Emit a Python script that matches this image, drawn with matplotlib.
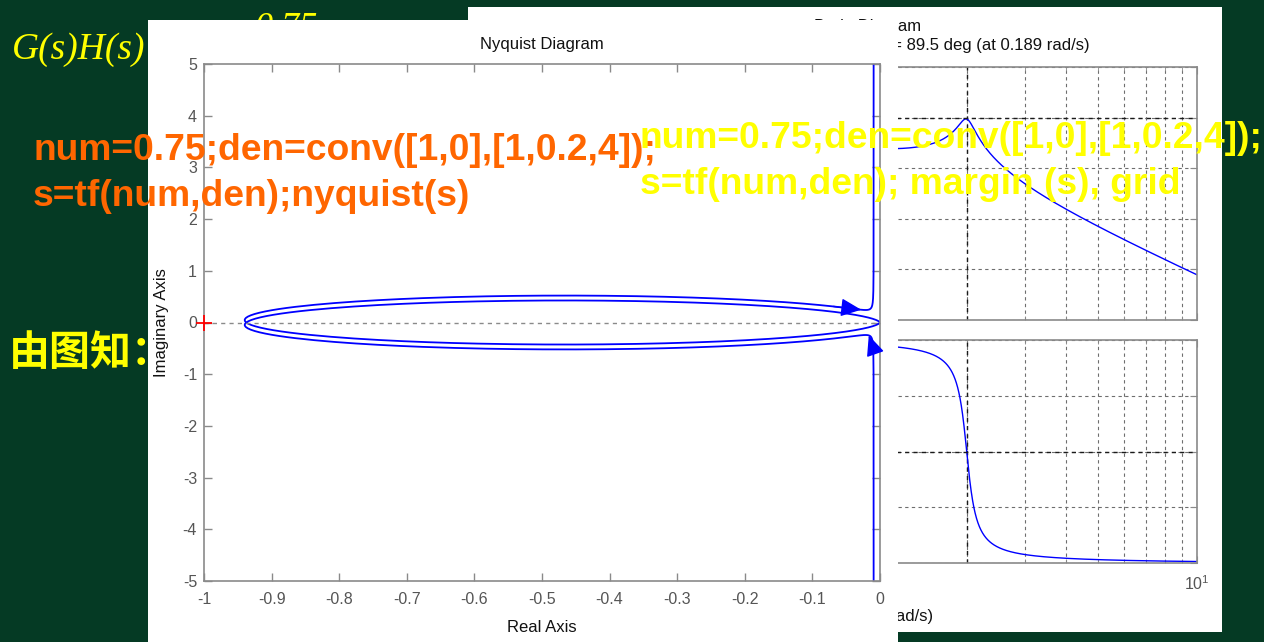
import numpy as np
import matplotlib
matplotlib.use("Agg")
import matplotlib.pyplot as plt
from matplotlib.patches import Rectangle
from matplotlib.ticker import FixedLocator, NullFormatter

# ---------------- data (transfer function shown on the slide) ----------------
num = [0.75]
den_s = [1, 0]
den_q = [1, 0.2, 4]
den = np.convolve(den_s, den_q)

w = np.logspace(-2, 3, 8000)           # frequency grid (rad/s)

nyq_xticks = [-1, -0.9, -0.8, -0.7, -0.6, -0.5, -0.4, -0.3, -0.2, -0.1, 0]
nyq_xticklabels = ["-1", "-0.9", "-0.8", "-0.7", "-0.6", "-0.5", "-0.4", "-0.3", "-0.2", "-0.1", "0"]
nyq_yticks = [-5, -4, -3, -2, -1, 0, 1, 2, 3, 4, 5]
nyq_yticklabels = ["-5", "-4", "-3", "-2", "-1", "0", "1", "2", "3", "4", "5"]

mag_ticks = [-80, -60, -40, -20, 0, 20]
phase_ticks = [-270, -225, -180, -135, -90]

gm_db = 0.561
w_gm = 2.0
pm_deg = 89.5
w_pm = 0.189

# arrow placement (frequencies along the branches)
arrow_pos_w = (0.4, 1.0)     # positive-frequency branch, tail -> tip
arrow_neg_w = (1.6, 1.3)     # negative-frequency branch, tail -> tip

title_nyq = "Nyquist Diagram"
title_bode = "Bode Diagram\nGm = %.3g dB (at %g rad/s) ,  Pm = %.3g deg (at %g rad/s)" % (gm_db, w_gm, pm_deg, w_pm)

code_orange = ["num=0.75;den=conv([1,0],[1,0.2,4]);", "s=tf(num,den);nyquist(s)"]
code_yellow = ["num=0.75;den=conv([1,0],[1,0.2,4]);", "s=tf(num,den); margin (s), grid"]
note_text = "由图知："

# ---------------- styling ----------------
BG = "#053a24"
BLUE = "#0000ff"
FRAME = "#8a8a8a"
TICKLBL = "#555555"
ORANGE = "#ff6600"
YELLOW = "#ffff00"

plt.rcParams["font.family"] = ["Liberation Sans", "DejaVu Sans"]
plt.rcParams["mathtext.fontset"] = "custom"
plt.rcParams["mathtext.rm"] = "Liberation Sans"
plt.rcParams["mathtext.it"] = "Liberation Sans:italic"

W, H = 1264, 642


def fx(px):
    return px / W


def fy(py):
    return 1 - py / H


def box(l, t, r, b):
    return [fx(l), fy(b), (r - l) / W, (b - t) / H]


fig = plt.figure(figsize=(W / 100, H / 100), dpi=100, facecolor=BG)

# ---------------- frequency response ----------------
Hjw = np.polyval(num, 1j * w) / np.polyval(den, 1j * w)
Hneg = np.conj(Hjw)
mag_db = 20 * np.log10(np.abs(Hjw))
phase = np.degrees(np.unwrap(np.angle(Hjw)))

# ---------------- background formula text (behind panels) ----------------
fig.text(fx(12), fy(50), "G(s)H(s)", family="Liberation Serif", style="italic",
         fontsize=27, color=YELLOW, va="center", ha="left", zorder=0.5)
fig.text(fx(255), fy(12), "0.75", family="Liberation Serif", style="italic",
         fontsize=26, color=YELLOW, va="top", ha="left", zorder=0.5)

# ---------------- Bode panel ----------------
fig.add_artist(Rectangle((fx(468), fy(632)), (1222 - 468) / W, (632 - 7) / H,
                         transform=fig.transFigure, facecolor="white", edgecolor="none", zorder=1))

axm = fig.add_axes(box(538, 67, 1197, 320))
axp = fig.add_axes(box(538, 340, 1197, 563))
for a in (axm, axp):
    a.set_zorder(2)
    a.set_xscale("log")
    a.set_xlim(0.1, 10)
    a.tick_params(which="both", direction="in", top=True, right=True, color=FRAME,
                  labelcolor=TICKLBL, labelsize=11.5)
    a.tick_params(which="major", length=5)
    a.tick_params(which="minor", length=3)
    for s in a.spines.values():
        s.set_color(FRAME)
        s.set_linewidth(1.2)
    a.grid(True, which="both", axis="x", color="#6e6e6e", ls=(0, (3, 3)), lw=0.8)
    a.grid(True, which="major", axis="y", color="#6e6e6e", ls=(0, (3, 3)), lw=0.8)
    a.axvline(w_gm, color="#1a1a1a", ls=(0, (3, 3)), lw=1.0)
    a.axvline(w_pm, color="#1a1a1a", ls=(0, (3, 3)), lw=1.0)

axm.plot(w, mag_db, color=BLUE, lw=1.0)
axm.axhline(0, color="#1a1a1a", ls=(0, (3, 3)), lw=1.0)
axm.set_ylim(-80, 20)
axm.yaxis.set_major_locator(FixedLocator(mag_ticks))
axm.xaxis.set_major_formatter(NullFormatter())
axm.xaxis.set_minor_formatter(NullFormatter())
axm.set_ylabel("Magnitude (dB)", fontsize=12)
axm.set_title(title_bode, fontsize=12, pad=12, linespacing=1.4, color="#111111")

axp.plot(w, phase, color=BLUE, lw=1.0)
axp.axhline(-180, color="#1a1a1a", ls=(0, (3, 3)), lw=1.0)
axp.set_ylim(-270, -90)
axp.yaxis.set_major_locator(FixedLocator(phase_ticks))
axp.xaxis.set_minor_formatter(NullFormatter())
axp.tick_params(axis="x", pad=8)
axp.set_ylabel("Phase (deg)", fontsize=12)
axp.set_xlabel("Frequency (rad/s)", fontsize=12, labelpad=12, color="#111111")

# ---------------- Nyquist panel ----------------
fig.add_artist(Rectangle((fx(148), fy(642)), (898 - 148) / W, (642 - 20) / H,
                         transform=fig.transFigure, facecolor="white", edgecolor="none", zorder=3))

ax = fig.add_axes(box(204, 64, 880, 581))
ax.set_zorder(4)
ax.plot(Hjw.real, Hjw.imag, color=BLUE, lw=1.3)
ax.plot(Hneg.real, Hneg.imag, color=BLUE, lw=1.3)
ax.axhline(0, color="#8a8a8a", ls=(0, (3, 3)), lw=1.0)
ax.plot([-1], [0], "+", color="red", ms=11, mew=1.3, clip_on=False, zorder=5)


def add_arrow(z, w_tail, w_tip):
    i0 = int(np.argmin(np.abs(w - w_tail)))
    i1 = int(np.argmin(np.abs(w - w_tip)))
    ax.annotate("", xy=(z[i1].real, z[i1].imag), xytext=(z[i0].real, z[i0].imag),
                arrowprops=dict(arrowstyle="-|>,head_length=0.9,head_width=0.4",
                                color=BLUE, lw=1.0, mutation_scale=14, shrinkA=0, shrinkB=0))


add_arrow(Hjw, *arrow_pos_w)
add_arrow(Hneg, *arrow_neg_w)

ax.set_xlim(-1, 0)
ax.set_ylim(-5, 5)
ax.set_xticks(nyq_xticks)
ax.set_xticklabels(nyq_xticklabels)
ax.set_yticks(nyq_yticks)
ax.set_yticklabels(nyq_yticklabels)
ax.tick_params(direction="in", top=True, right=True, length=6, width=1, color=FRAME,
               labelcolor=TICKLBL, labelsize=11.5)
ax.tick_params(axis="x", pad=8)
ax.tick_params(axis="y", pad=5)
for s in ax.spines.values():
    s.set_color(FRAME)
    s.set_linewidth(1.2)
ax.set_title(title_nyq, fontsize=12, pad=11, color="#111111")
ax.set_xlabel("Real Axis", fontsize=12, labelpad=9, color="#111111")
ax.set_ylabel("Imaginary Axis", fontsize=12, labelpad=10, color="#111111")

# ---------------- overlay text ----------------
fig.text(fx(33), fy(151), code_orange[0], fontsize=26.8, weight="bold", color=ORANGE,
         va="center", ha="left", zorder=10)
fig.text(fx(33), fy(196), code_orange[1], fontsize=26.8, weight="bold", color=ORANGE,
         va="center", ha="left", zorder=10)
fig.text(fx(640), fy(138), code_yellow[0], fontsize=26.8, weight="bold", color=YELLOW,
         va="center", ha="left", zorder=10)
fig.text(fx(640), fy(184), code_yellow[1], fontsize=26.8, weight="bold", color=YELLOW,
         va="center", ha="left", zorder=10)
fig.text(fx(9), fy(353), note_text, fontsize=29.5, weight="bold", color=YELLOW,
         family=["Noto Sans CJK SC", "DejaVu Sans"], va="center", ha="left", zorder=10)

fig.savefig("out.png", dpi=100, facecolor=BG)
